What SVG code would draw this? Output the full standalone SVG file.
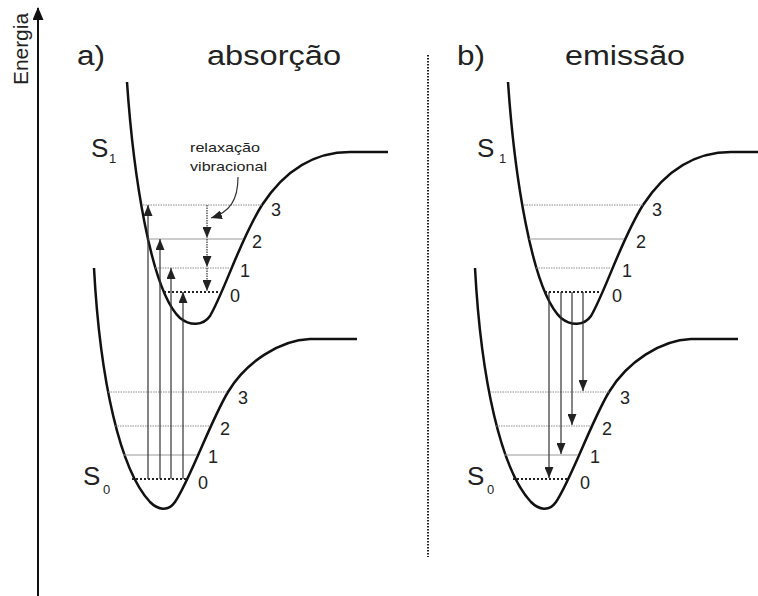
<svg xmlns="http://www.w3.org/2000/svg" width="758" height="596" viewBox="0 0 758 596">
<defs>
<marker id="ah" markerUnits="userSpaceOnUse" markerWidth="11" markerHeight="9" refX="11" refY="4.5" orient="auto">
<path d="M0,0 L11,4.5 L0,9 z" fill="#222"/>
</marker>
<marker id="ax" markerUnits="userSpaceOnUse" markerWidth="13" markerHeight="11" refX="12" refY="5.5" orient="auto">
<path d="M0,0 L13,5.5 L0,11 z" fill="#111"/>
</marker>
<path id="s1curve" fill="none" stroke="#111" stroke-width="2.5" d="M127,82 C133,170 150,290 180,318 C190,326 203,326 210,316 C225,290 240,240 262,205 C285,170 315,152 350,152 L388,152"/>
<path id="s0curve" fill="none" stroke="#111" stroke-width="2.5" d="M94,268 C100,380 120,470 150,502 C158,510 168,512 175,502 C190,480 210,422 228,392 C246,362 280,340 310,339 L357,339"/>
</defs>
<style>
.lv{stroke:#8a8a8a;stroke-width:1;stroke-dasharray:1.5 1}
.lvs{stroke:#999;stroke-width:1}
.l0{stroke:#222;stroke-width:2;stroke-dasharray:2 2}
.arr{stroke:#333;stroke-width:1.2;fill:none;marker-end:url(#ah)}
.rel{stroke:#333;stroke-width:1.2;stroke-dasharray:1.5 1;fill:none;marker-end:url(#ah)}
text{font-family:"Liberation Sans",Arial,sans-serif;fill:#222}
.big{font-size:27px}
.num{font-size:18px}
.st{font-size:26px}
.sub{font-size:13px}
.sm{font-size:13px}
</style>
<rect width="758" height="596" fill="#fff"/>

<g id="energy-axis">
<line x1="38" y1="596" x2="38" y2="8" stroke="#111" stroke-width="2" marker-end="url(#ax)"/>
<text transform="translate(28,49) rotate(-90)" text-anchor="middle" font-size="20" textLength="72" lengthAdjust="spacingAndGlyphs">Energia</text>
</g>

<g id="separator">
<line x1="428" y1="55" x2="428" y2="557" stroke="#222" stroke-width="2" stroke-dasharray="1.5 1.5"/>
</g>

<g id="panel-a">
<text class="big" x="77" y="65" textLength="28" lengthAdjust="spacingAndGlyphs">a)</text>
<text class="big" x="207" y="65" textLength="134" lengthAdjust="spacingAndGlyphs">absorção</text>
<g id="a-S1">
<use href="#s1curve"/>
<text class="st" x="91" y="157">S</text><text class="sub" x="109" y="163">1</text>
<line class="lv" x1="143" y1="205" x2="263" y2="205"/>
<line class="lvs" x1="148" y1="239" x2="243" y2="239"/>
<line class="lv" x1="155" y1="268" x2="229" y2="268"/>
<line class="l0" x1="164" y1="292" x2="220" y2="292"/>
<text class="num" x="271" y="216">3</text>
<text class="num" x="252" y="248">2</text>
<text class="num" x="240" y="277">1</text>
<text class="num" x="230" y="302">0</text>
</g>
<g id="a-S0">
<use href="#s0curve"/>
<text class="st" x="83" y="485">S</text><text class="sub" x="103" y="494">0</text>
<line class="lv" x1="108" y1="392" x2="228" y2="392"/>
<line class="lv" x1="115" y1="426" x2="210" y2="426"/>
<line class="lvs" x1="123" y1="455" x2="197" y2="455"/>
<line class="l0" x1="132" y1="479" x2="186" y2="479"/>
<text class="num" x="238" y="404">3</text>
<text class="num" x="220" y="435">2</text>
<text class="num" x="208" y="463">1</text>
<text class="num" x="198" y="489">0</text>
</g>
<g id="a-label">
<text class="sm" x="190" y="152" textLength="70" lengthAdjust="spacingAndGlyphs">relaxação</text>
<text class="sm" x="190" y="171" textLength="77" lengthAdjust="spacingAndGlyphs">vibracional</text>
</g>
</g>

<g id="panel-b">
<text class="big" x="457" y="65" textLength="28" lengthAdjust="spacingAndGlyphs">b)</text>
<text class="big" x="565" y="65" textLength="120" lengthAdjust="spacingAndGlyphs">emissão</text>
<g id="b-S1">
<use href="#s1curve" transform="translate(381,0)"/>
<text class="st" x="477" y="157">S</text><text class="sub" x="499" y="163">1</text>
<line class="lv" x1="524" y1="205" x2="644" y2="205"/>
<line class="lvs" x1="529" y1="239" x2="624" y2="239"/>
<line class="lv" x1="536" y1="268" x2="610" y2="268"/>
<line class="l0" x1="545" y1="292" x2="601" y2="292"/>
<text class="num" x="652" y="216">3</text>
<text class="num" x="636" y="248">2</text>
<text class="num" x="622" y="277">1</text>
<text class="num" x="612" y="302">0</text>
</g>
<g id="b-S0">
<use href="#s0curve" transform="translate(381,0)"/>
<text class="st" x="467" y="485">S</text><text class="sub" x="487" y="494">0</text>
<line class="lv" x1="490" y1="392" x2="609" y2="392"/>
<line class="lv" x1="496" y1="426" x2="591" y2="426"/>
<line class="lvs" x1="504" y1="455" x2="578" y2="455"/>
<line class="l0" x1="513" y1="479" x2="567" y2="479"/>
<text class="num" x="620" y="404">3</text>
<text class="num" x="602" y="435">2</text>
<text class="num" x="590" y="463">1</text>
<text class="num" x="580" y="489">0</text>
</g>
</g>

<g id="connectors">
<line class="arr" x1="148" y1="479" x2="148" y2="205"/>
<line class="arr" x1="160" y1="479" x2="160" y2="239"/>
<line class="arr" x1="171" y1="479" x2="171" y2="268"/>
<line class="arr" x1="183" y1="479" x2="183" y2="292"/>
<line class="rel" x1="207" y1="205" x2="207" y2="238"/>
<line class="rel" x1="207" y1="239" x2="207" y2="267"/>
<line class="rel" x1="207" y1="268" x2="207" y2="291"/>
<path class="arr" d="M238,177 C238,200 230,212 211,218"/>
<line class="arr" x1="549" y1="292" x2="549" y2="478"/>
<line class="arr" x1="561" y1="292" x2="561" y2="454"/>
<line class="arr" x1="572" y1="292" x2="572" y2="425"/>
<line class="arr" x1="583" y1="292" x2="583" y2="391"/>
</g>
</svg>
